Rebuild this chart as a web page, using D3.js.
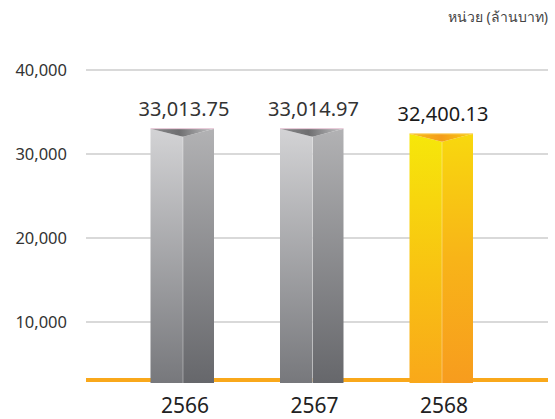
<!DOCTYPE html>
<html>
<head>
<meta charset="utf-8">
<script src="https://cdn.jsdelivr.net/npm/d3@7"></script>
<style>
  html, body { margin: 0; padding: 0; background: #fff; }
  svg { display: block; font-family: "Noto Sans", "Open Sans", sans-serif; }
</style>
</head>
<body>
<script>
// data
const years = ["2566", "2567", "2568"];
const values = [33013.75, 33014.97, 32400.13];
const valueLabels = ["33,013.75", "33,014.97", "32,400.13"];
const yTicks = [10000, 20000, 30000, 40000];
const unitLabel = "หน่วย (ล้านบาท)";

const width = 555, height = 419;
const svg = d3.select("body").append("svg")
    .attr("width", width)
    .attr("height", height);

const x = d3.scalePoint().domain(years).range([183, 442]);
const y = d3.scaleLinear().domain([0, 40000]).range([406, 70]);
const baseY = 380;
const barW = 64;
const capH = 8;

// gradients
const defs = svg.append("defs");
const grad = (id, x2, y2, stops) => {
    const g = defs.append("linearGradient").attr("id", id)
        .attr("x1", 0).attr("y1", 0).attr("x2", x2).attr("y2", y2);
    stops.forEach(s => g.append("stop").attr("offset", s[0]).attr("stop-color", s[1]));
};
grad("grayL", 0, 1, [[0, "#d3d3d5"], [1, "#77787c"]]);
grad("grayR", 0, 1, [[0, "#b2b2b4"], [1, "#66676b"]]);
grad("grayC", 1, 0, [[0, "#8a8a8c"], [0.45, "#6e6e70"], [1, "#c4c4c6"]]);
grad("yelL", 0, 1, [[0, "#f6e70a"], [0.55, "#f8c312"], [1, "#f9a81a"]]);
grad("yelR", 0, 1, [[0, "#f8d80e"], [0.5, "#f8b418"], [1, "#f79c1e"]]);
grad("yelC", 1, 0, [[0, "#f8c016"], [0.5, "#f49c1a"], [1, "#f9d010"]]);

// gridlines
svg.append("g")
    .selectAll("line")
    .data(yTicks)
    .join("line")
    .attr("x1", 86).attr("x2", 548)
    .attr("y1", d => y(d)).attr("y2", d => y(d))
    .attr("stroke", "#d9d9d9")
    .attr("stroke-width", 2);

// tick labels
svg.append("g")
    .selectAll("text")
    .data(yTicks)
    .join("text")
    .attr("x", 67)
    .attr("y", d => y(d) + 6)
    .attr("text-anchor", "end")
    .attr("font-size", 16.5)
    .attr("fill", "#333")
    .text(d => d3.format(",")(d));

// unit label
svg.append("text")
    .attr("x", 548).attr("y", 22)
    .attr("text-anchor", "end")
    .attr("font-size", 14)
    .attr("fill", "#444")
    .text(unitLabel);

// baseline
svg.append("line")
    .attr("x1", 86).attr("x2", 548)
    .attr("y1", baseY).attr("y2", baseY)
    .attr("stroke", "#f9a81b")
    .attr("stroke-width", 4);

// bars
const bars = svg.append("g")
    .selectAll("g")
    .data(years.map((yr, i) => ({ yr, v: values[i], label: valueLabels[i], hi: i === years.length - 1 })))
    .join("g");

bars.each(function (d) {
    const g = d3.select(this);
    const cx = x(d.yr);
    const x0 = cx - barW / 2 - 0.5, x1 = cx + barW / 2 - 1;
    const top = y(d.v);
    const bot = baseY + 3;
    const p = d.hi ? "yel" : "gray";
    g.append("path")
        .attr("d", `M${x0},${top}L${cx},${top + capH}L${cx},${bot}L${x0},${bot}Z`)
        .attr("fill", `url(#${p}L)`);
    g.append("path")
        .attr("d", `M${cx},${top + capH}L${x1},${top}L${x1},${bot}L${cx},${bot}Z`)
        .attr("fill", `url(#${p}R)`);
    g.append("path")
        .attr("d", `M${x0},${top}L${x1},${top}L${cx},${top + capH}Z`)
        .attr("fill", `url(#${p}C)`);
    g.append("line")
        .attr("x1", x0).attr("x2", x1).attr("y1", top).attr("y2", top)
        .attr("stroke", d.hi ? "#fbd36a" : "#e8c6d6")
        .attr("stroke-width", 1);
    g.append("line")
        .attr("x1", cx).attr("x2", cx).attr("y1", top + capH).attr("y2", bot)
        .attr("stroke", "#fff").attr("stroke-opacity", 0.35)
        .attr("stroke-width", 1);
    g.append("text")
        .attr("x", cx + 1)
        .attr("y", top - 13)
        .attr("text-anchor", "middle")
        .attr("font-size", 20)
        .attr("fill", d.hi ? "#1a1a1a" : "#333")
        .text(d.label);
});

// x labels
svg.append("g")
    .selectAll("text")
    .data(years)
    .join("text")
    .attr("x", d => x(d) + 2)
    .attr("y", 413)
    .attr("text-anchor", "middle")
    .attr("font-size", 21)
    .attr("fill", "#222")
    .text(d => d);
</script>
</body>
</html>
